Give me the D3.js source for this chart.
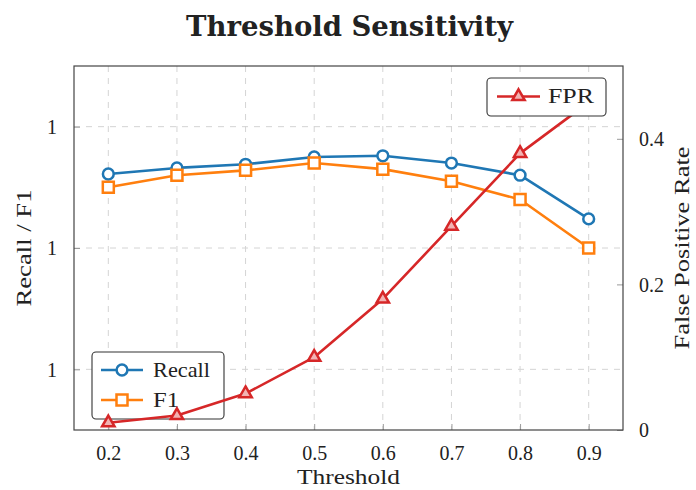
<!DOCTYPE html>
<html>
<head>
<meta charset="utf-8">
<script src="https://cdn.jsdelivr.net/npm/d3@7"></script>
<style>
  html, body { margin: 0; padding: 0; background: #fff; }
  svg { display: block; }
  text { font-family: "Liberation Serif", "Times New Roman", serif; fill: #222; }
</style>
</head>
<body>
<svg id="chart" width="696" height="490"></svg>
<script>
// ---- data ----
const thresholds = [0.2, 0.3, 0.4, 0.5, 0.6, 0.7, 0.8, 0.9];
const recall = [0.861, 0.866, 0.869, 0.875, 0.876, 0.870, 0.860, 0.824];
const f1 = [0.850, 0.860, 0.864, 0.870, 0.865, 0.855, 0.840, 0.800];
const fpr = [0.01, 0.02, 0.05, 0.10, 0.18, 0.28, 0.38, 0.45];
const leftTicks = [0.7, 0.8, 0.9];
const rightTicks = [0, 0.2, 0.4];
const title = "Threshold Sensitivity";
const xLabel = "Threshold";
const yLeftLabel = "Recall / F1";
const yRightLabel = "False Positive Rate";

// ---- layout ----
const W = 696, H = 490;
const L = 74, R = 623, T = 66, B = 430;
const colors = { recall: "#1f77b4", f1: "#ff7f0e", fpr: "#d62728" };

const svg = d3.select("#chart");
const x = d3.scaleLinear().domain([0.15, 0.95]).range([L, R]);
const yL = d3.scaleLinear().domain([0.65, 0.95]).range([B, T]);
const yR = d3.scaleLinear().domain([0, 0.5]).range([B, T]);

// title
svg.append("text")
  .attr("x", 349.5).attr("y", 36)
  .attr("text-anchor", "middle")
  .style("font-family", "'DejaVu Serif', serif")
  .style("font-weight", "bold")
  .style("font-size", "27px")
  .attr("textLength", 327).attr("lengthAdjust", "spacingAndGlyphs")
  .text(title);

// grid
const grid = svg.append("g");
grid.selectAll("line.vx").data(thresholds).enter().append("line")
  .attr("x1", d => x(d)).attr("x2", d => x(d))
  .attr("y1", T).attr("y2", B)
  .attr("stroke", "#d4d4d4").attr("stroke-width", 1).attr("stroke-dasharray", "6,6");
grid.selectAll("line.hy").data(leftTicks).enter().append("line")
  .attr("x1", L).attr("x2", R)
  .attr("y1", d => yL(d)).attr("y2", d => yL(d))
  .attr("stroke", "#d4d4d4").attr("stroke-width", 1).attr("stroke-dasharray", "6,6");

// axes (inner ticks, labels)
const tickLen = 6;
const xAxis = d3.axisBottom(x).tickValues(thresholds).tickSize(-tickLen).tickPadding(16)
  .tickFormat(d3.format(".1f"));
const gx = svg.append("g").attr("transform", `translate(0,${B})`).call(xAxis);
const yAxisL = d3.axisLeft(yL).tickValues(leftTicks).tickSize(-tickLen).tickPadding(17)
  .tickFormat(d3.format(".0f"));
const gyl = svg.append("g").attr("transform", `translate(${L},0)`).call(yAxisL);
const yAxisR = d3.axisRight(yR).tickValues(rightTicks).tickSize(-tickLen).tickPadding(16)
  .tickFormat(d3.format("~g"));
const gyr = svg.append("g").attr("transform", `translate(${R},0)`).call(yAxisR);

[gx, gyl, gyr].forEach(g => {
  g.select(".domain").remove();
  g.selectAll(".tick line").attr("stroke", "#9a9a9a").attr("stroke-width", 1);
  g.selectAll(".tick text")
    .style("font-family", "'Liberation Serif', serif")
    .style("font-size", "20px").attr("fill", "#222");
});
gx.selectAll(".tick text").attr("dy", "0.71em");
gyl.selectAll(".tick text").attr("dy", "0.34em");
gyr.selectAll(".tick text").attr("dy", "0.34em");

// frame
svg.append("rect").attr("x", L).attr("y", T).attr("width", R - L).attr("height", B - T)
  .attr("fill", "none").attr("stroke", "#444").attr("stroke-width", 1.2);

// axis labels
svg.append("text").attr("x", (L + R) / 2).attr("y", 484)
  .attr("text-anchor", "middle").style("font-size", "22px")
  .attr("textLength", 103).attr("lengthAdjust", "spacingAndGlyphs")
  .text(xLabel);
svg.append("text").attr("transform", `translate(31,${(T + B) / 2}) rotate(-90)`)
  .attr("text-anchor", "middle").style("font-size", "22px")
  .attr("textLength", 117).attr("lengthAdjust", "spacingAndGlyphs")
  .text(yLeftLabel);
svg.append("text").attr("transform", `translate(689,${(T + B) / 2}) rotate(-90)`)
  .attr("text-anchor", "middle").style("font-size", "22px")
  .attr("textLength", 203).attr("lengthAdjust", "spacingAndGlyphs")
  .text(yRightLabel);

// series helpers
const sym = {
  circle: d3.symbol().type(d3.symbolCircle).size(Math.PI * 5.4 * 5.4),
  square: d3.symbol().type(d3.symbolSquare).size(11 * 11),
  triangle: d3.symbol().type(d3.symbolTriangle).size(66)
};

function drawSeries(vals, yScale, color, shape, markFill) {
  const pts = thresholds.map((t, i) => [x(t), yScale(vals[i])]);
  const g = svg.append("g");
  g.append("path").attr("d", d3.line()(pts))
    .attr("fill", "none").attr("stroke", color).attr("stroke-width", 2.6)
    .attr("stroke-linejoin", "round");
  g.selectAll("path.m").data(pts).enter().append("path")
    .attr("transform", d => `translate(${d[0]},${d[1]})`)
    .attr("d", sym[shape]())
    .attr("fill", markFill).attr("stroke", color).attr("stroke-width", 2.5);
}

function legend(x0, y0, w, h, items) {
  const g = svg.append("g");
  g.append("rect").attr("x", x0).attr("y", y0).attr("width", w).attr("height", h)
    .attr("rx", 4).attr("fill", "#fff").attr("stroke", "#333").attr("stroke-width", 1.1);
  items.forEach(it => {
    g.append("line").attr("x1", it.lx1).attr("x2", it.lx2).attr("y1", it.y).attr("y2", it.y)
      .attr("stroke", it.color).attr("stroke-width", 2.6);
    g.append("path").attr("transform", `translate(${(it.lx1 + it.lx2) / 2},${it.y})`)
      .attr("d", sym[it.shape]()).attr("fill", it.fill)
      .attr("stroke", it.color).attr("stroke-width", 2.5);
    g.append("text").attr("x", it.tx).attr("y", it.y + 6.5)
      .style("font-size", "22px")
      .attr("textLength", it.tw).attr("lengthAdjust", "spacingAndGlyphs")
      .text(it.label);
  });
}

// first axis: Recall & F1 + legend
drawSeries(recall, yL, colors.recall, "circle", "#fff");
drawSeries(f1, yL, colors.f1, "square", "#fff");
legend(92, 352, 132, 67, [
  { label: "Recall", color: colors.recall, shape: "circle", fill: "#fff", lx1: 101, lx2: 143, y: 370, tx: 153, tw: 57 },
  { label: "F1", color: colors.f1, shape: "square", fill: "#fff", lx1: 101, lx2: 143, y: 400, tx: 153, tw: 26 }
]);

// second axis: FPR + legend
drawSeries(fpr, yR, colors.fpr, "triangle", "#f2b3b3");
legend(487, 78, 119, 38, [
  { label: "FPR", color: colors.fpr, shape: "triangle", fill: "#f2b3b3", lx1: 497, lx2: 540, y: 96.5, tx: 548, tw: 46 }
]);
</script>
</body>
</html>
